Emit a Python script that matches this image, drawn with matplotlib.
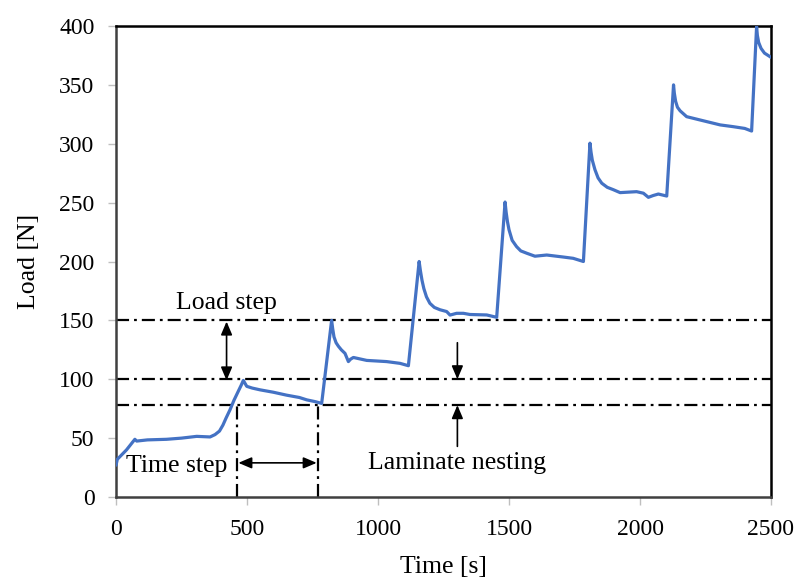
import matplotlib
matplotlib.use("Agg")
import matplotlib.pyplot as plt
from matplotlib.patches import FancyArrowPatch

# ---- data ----
time_s = [0, 5, 40, 72, 79, 120, 193, 250, 308, 359, 378, 395, 408, 420, 435, 450, 465, 478, 486,
          499, 520, 550, 600, 651, 700, 728, 760, 785,
          823, 827, 832, 840, 849, 860, 874, 887, 895, 906, 957, 1033, 1084, 1116,
          1157, 1162, 1168, 1175, 1185, 1198, 1215, 1237, 1262, 1275, 1300, 1326, 1351, 1415, 1453,
          1485, 1489, 1494, 1500, 1512, 1529, 1545, 1568, 1599, 1644, 1707, 1745, 1784,
          1809, 1813, 1818, 1828, 1840, 1854, 1875, 1898, 1924, 1987, 2013, 2032, 2050, 2070, 2102,
          2128, 2131, 2136, 2143, 2153, 2178, 2229, 2306, 2356, 2400, 2426,
          2445, 2448, 2453, 2462, 2475, 2500]
load_N = [27, 32, 40, 49, 47.5, 48.5, 49, 50, 51.5, 51, 53, 56, 61, 67, 74, 82, 89, 95, 99,
          94, 92.5, 91, 89, 86.5, 84.5, 82.5, 81, 79.5,
          150, 143, 136, 131, 128, 125, 122, 115, 117, 118.5, 116, 115, 113.5, 111.5,
          200, 192, 184, 177, 170, 164.5, 161, 159, 157.5, 154.5, 156, 156, 155, 154.6, 152.6,
          250.5, 242, 234, 227, 218, 212.6, 209, 207, 204.5, 205.5, 203.8, 202.7, 200,
          300.5, 293, 286, 278, 271, 266.5, 263, 261, 258.5, 259.3, 258, 254.5, 256, 257.3, 255.6,
          350, 343, 336, 331, 328, 323, 320.2, 316, 314.5, 313, 310.8,
          399.5, 392, 386, 381, 377, 373.4]

h_levels = [150, 100, 78]            # horizontal dash-dot reference lines [N]
v_times = [461, 770]                 # vertical dash-dot reference lines [s]
v_top = 78

x_ticks = [0, 500, 1000, 1500, 2000, 2500]
y_ticks = [0, 50, 100, 150, 200, 250, 300, 350, 400]

plt.rcParams['font.family'] = ['Liberation Serif', 'DejaVu Serif']
plt.rcParams['lines.scale_dashes'] = False
FS_TICK = 17
FS_TXT = 18.5
FS_LAB = 18.5

fig = plt.figure(figsize=(7.96, 5.82), dpi=100)
ax = fig.add_axes([116/796, 1-497/582, (771-116)/796, (497-26)/582])

dashdot = (0, (9.4, 3.6, 2.0, 3.6))
for lv in h_levels:
    ax.plot([0, 2500], [lv, lv], color='black', lw=1.6, linestyle=dashdot, zorder=2)
for vt in v_times:
    ax.plot([vt, vt], [0, v_top], color='black', lw=1.6, linestyle=dashdot, zorder=2)

ax.plot(time_s, load_N, color='#4472C4', lw=2.3, zorder=3,
        solid_joinstyle='round', solid_capstyle='round')

def arrow(p0, p1, style):
    a = FancyArrowPatch(p0, p1, arrowstyle=style, mutation_scale=20, color='black',
                        lw=1.2, shrinkA=0, shrinkB=0, zorder=4)
    ax.add_patch(a)

both = '<|-|>,head_length=0.4,head_width=0.17'
one = '-|>,head_length=0.4,head_width=0.17'
arrow((422, 99), (422, 149), both)
arrow((467, 29), (766, 29), both)
arrow((1303, 131), (1303, 100), one)
arrow((1303, 43), (1303, 78), one)

ax.text(422, 165, 'Load step', fontsize=FS_TXT, ha='center', va='center', zorder=5)
ax.text(230, 26, 'Time step', fontsize=FS_TXT, ha='center', va='center', zorder=5)
ax.text(1303, 29, 'Laminate nesting', fontsize=FS_TXT, ha='center', va='center', zorder=5)

ax.set_xlim(0, 2500)
ax.set_ylim(0, 400)
ax.set_xticks(x_ticks)
ax.set_yticks(y_ticks)
ax.tick_params(axis='both', direction='out', length=5.5, width=1.0, color='#BFBFBF',
               labelsize=FS_TICK, pad=10)
for s in ax.spines.values():
    s.set_color('black')
    s.set_linewidth(1.8)
ax.spines['left'].set_color('#404040')
ax.spines['bottom'].set_color('#404040')

ax.set_xlabel('Time [s]', fontsize=FS_LAB, labelpad=12)
ax.set_ylabel('Load [N]', fontsize=FS_LAB, labelpad=14)

fig.savefig('out.png', dpi=100)
